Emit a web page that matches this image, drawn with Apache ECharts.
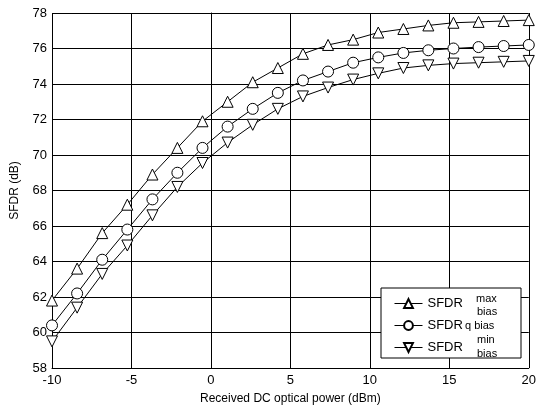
<!DOCTYPE html>
<html>
<head>
    <meta charset="utf-8">
    <title>SFDR vs received optical power</title>
    <script src="https://cdn.jsdelivr.net/npm/echarts@6/dist/echarts.min.js"></script>
    <style>
        html, body { margin: 0; padding: 0; background: #ffffff; }
        #chart { width: 539px; height: 412px; }
    </style>
</head>
<body>
<div id="chart"></div>
<script>
    // received DC optical power (dBm), 20 points
    var power = [-10, -8.42, -6.84, -5.26, -3.68, -2.11, -0.53, 1.05, 2.63, 4.21,
                 5.79, 7.37, 8.95, 10.53, 12.11, 13.68, 15.26, 16.84, 18.42, 20];
    // SFDR (dB)
    var sfdrMax = [61.8, 63.6, 65.6, 67.2, 68.9, 70.4, 71.9, 73.0, 74.1, 74.9,
                   75.7, 76.2, 76.5, 76.9, 77.1, 77.3, 77.45, 77.5, 77.55, 77.6];
    var sfdrQ   = [60.4, 62.2, 64.1, 65.8, 67.5, 69.0, 70.4, 71.6, 72.6, 73.5,
                   74.2, 74.7, 75.2, 75.5, 75.75, 75.9, 76.0, 76.08, 76.14, 76.2];
    var sfdrMin = [59.5, 61.4, 63.3, 64.9, 66.6, 68.2, 69.55, 70.7, 71.7, 72.6,
                   73.3, 73.8, 74.25, 74.6, 74.9, 75.05, 75.15, 75.2, 75.25, 75.3];
    var seriesNames = ['SFDR max bias', 'SFDR q bias', 'SFDR min bias'];

    var font = '"Liberation Sans", Arial, sans-serif';

    function pairs(ys) {
        var out = [];
        for (var i = 0; i < power.length; i++) out.push([power[i], ys[i]]);
        return out;
    }

    function line(name, ys, symbol) {
        return {
            name: name,
            type: 'line',
            data: pairs(ys),
            symbol: symbol,
            symbolSize: 11,
            showAllSymbol: true,
            lineStyle: { color: '#000', width: 1 },
            itemStyle: { color: '#fff', borderColor: '#000', borderWidth: 1 },
            z: 3
        };
    }

    var chart = echarts.init(document.getElementById('chart'));

    var option = {
        backgroundColor: '#fff',
        animation: false,
        grid: { left: 52, right: 2, top: 13, bottom: 44 },
        xAxis: {
            type: 'value',
            min: -10, max: 20, interval: 5,
            name: 'Received DC optical power (dBm)',
            nameLocation: 'middle',
            nameGap: 25,
            nameTextStyle: { color: '#000', fontFamily: font, fontSize: 12 },
            axisLine: { lineStyle: { color: '#000', width: 1 } },
            axisTick: { show: false },
            axisLabel: { color: '#000', fontFamily: font, fontSize: 13, margin: 6 },
            splitLine: { lineStyle: { color: '#000', width: 1 } }
        },
        yAxis: {
            type: 'value',
            min: 58, max: 78, interval: 2,
            name: 'SFDR (dB)',
            nameLocation: 'middle',
            nameGap: 31,
            nameTextStyle: { color: '#000', fontFamily: font, fontSize: 12 },
            axisLine: { show: true, lineStyle: { color: '#000', width: 1 } },
            axisTick: { show: false },
            axisLabel: { color: '#000', fontFamily: font, fontSize: 13, margin: 5 },
            splitLine: { lineStyle: { color: '#000', width: 1 } }
        },
        legend: {
            orient: 'vertical',
            left: 389,
            top: 292,
            z: 6,
            itemWidth: 28,
            itemHeight: 11,
            itemGap: 9,
            data: seriesNames,
            lineStyle: { width: 1 },
            formatter: function () { return 'SFDR'; },
            textStyle: { color: '#000', fontFamily: font, fontSize: 13, lineHeight: 13 }
        },
        graphic: [
            {
                type: 'rect', z: 5,
                shape: { x: 381, y: 288, width: 140, height: 70 },
                style: { fill: '#fff', stroke: '#000', lineWidth: 1 }
            },
            { type: 'text', z: 7, left: 476, top: 293, style: { text: 'max', font: '11px ' + font, fill: '#000' } },
            { type: 'text', z: 7, left: 477, top: 306, style: { text: 'bias', font: '11px ' + font, fill: '#000' } },
            { type: 'text', z: 7, left: 465, top: 320, style: { text: 'q bias', font: '11px ' + font, fill: '#000' } },
            { type: 'text', z: 7, left: 477, top: 334, style: { text: 'min', font: '11px ' + font, fill: '#000' } },
            { type: 'text', z: 7, left: 477, top: 348, style: { text: 'bias', font: '11px ' + font, fill: '#000' } }
        ],
        series: [
            line(seriesNames[0], sfdrMax, 'triangle'),
            line(seriesNames[1], sfdrQ, 'circle'),
            line(seriesNames[2], sfdrMin, 'path://M0,0 L10,0 L5,9 Z')
        ]
    };
    chart.setOption(option);
</script>
</body>
</html>
